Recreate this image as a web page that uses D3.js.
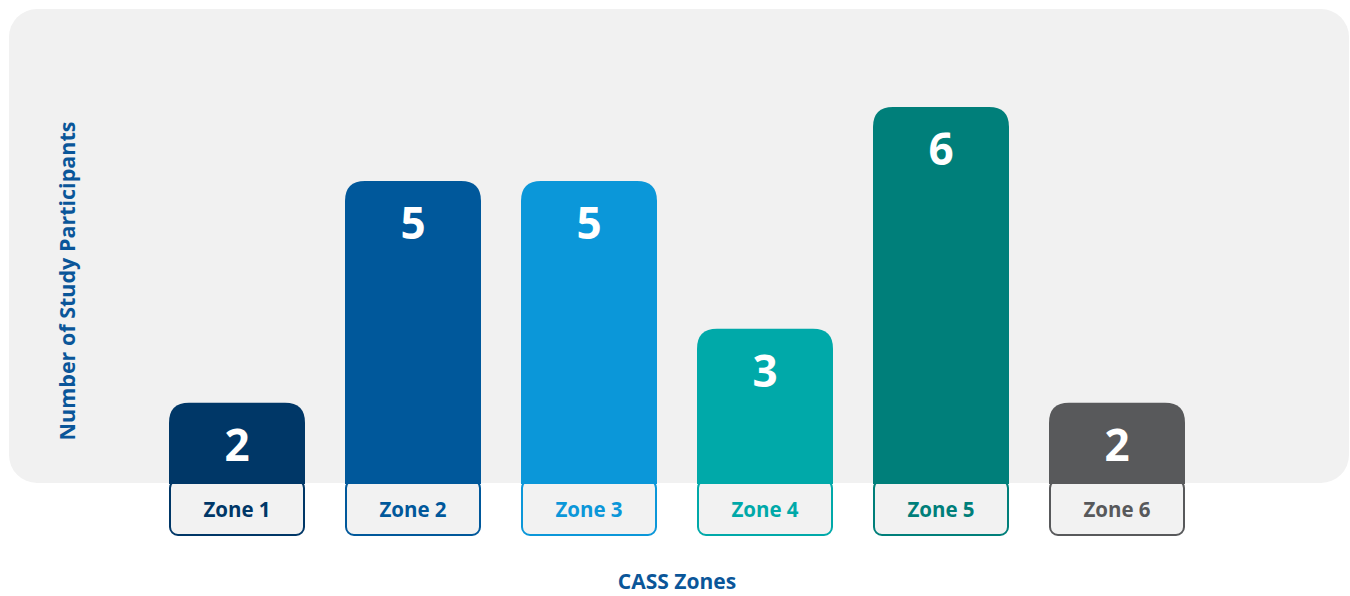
<!DOCTYPE html>
<html>
<head>
<meta charset="utf-8">
<script src="https://cdn.jsdelivr.net/npm/d3@7"></script>
<style>
  html, body { margin: 0; padding: 0; background: #ffffff; }
  svg { display: block; font-family: "Open Sans", "Noto Sans", sans-serif; }
</style>
</head>
<body>
<div id="chart"></div>
<script>
var zones = ["Zone 1", "Zone 2", "Zone 3", "Zone 4", "Zone 5", "Zone 6"];
var participants = [2, 5, 5, 3, 6, 2];
var zoneColors = ["#003767", "#00589b", "#0b97d9", "#00a9a9", "#007f7a", "#58595b"];

var width = 1350;
var height = 596;
var baseY = 484;      // bottom of the coloured part of each bar
var labelBoxH = 52;   // height of the zone label box under each bar
var topR = 20;
var botR = 8;

var svg = d3.select("#chart").append("svg")
  .attr("width", width)
  .attr("height", height);

// grey panel behind the bars
svg.append("rect")
  .attr("x", 9)
  .attr("y", 9)
  .attr("width", 1340)
  .attr("height", 474)
  .attr("rx", 28)
  .attr("fill", "#f1f1f1");

var x = d3.scaleBand()
  .domain(zones)
  .range([169 - 20, 1185 + 20])
  .paddingInner(40 / 176)
  .paddingOuter(20 / 176);

// bars do not start from zero in the original graphic
var y = d3.scaleLinear()
  .domain([0.9, 6])
  .range([baseY, 107]);

function topBarPath(x0, y0, w, yb) {
  return "M" + x0 + "," + yb +
    "V" + (y0 + topR) +
    "Q" + x0 + "," + y0 + " " + (x0 + topR) + "," + y0 +
    "H" + (x0 + w - topR) +
    "Q" + (x0 + w) + "," + y0 + " " + (x0 + w) + "," + (y0 + topR) +
    "V" + yb + "Z";
}

var data = zones.map(function (z, i) {
  return { zone: z, value: participants[i], color: zoneColors[i] };
});

var bars = svg.selectAll("g.bar")
  .data(data)
  .enter()
  .append("g")
  .attr("class", "bar");

// label box under each bar
bars.append("rect")
  .attr("x", function (d) { return x(d.zone) + 1; })
  .attr("y", baseY - 4)
  .attr("width", x.bandwidth() - 2)
  .attr("height", labelBoxH + 3)
  .attr("rx", botR)
  .attr("fill", "#f2f2f2")
  .attr("stroke", function (d) { return d.color; })
  .attr("stroke-width", 2);

bars.append("path")
  .attr("d", function (d) {
    return topBarPath(x(d.zone), y(d.value), x.bandwidth(), baseY);
  })
  .attr("fill", function (d) { return d.color; });

bars.append("text")
  .attr("x", function (d) { return x(d.zone) + x.bandwidth() / 2; })
  .attr("y", function (d) { return y(d.value) + 58; })
  .attr("text-anchor", "middle")
  .attr("font-size", 44)
  .attr("font-weight", 700)
  .attr("fill", "#ffffff")
  .text(function (d) { return d.value; });

bars.append("text")
  .attr("x", function (d) { return x(d.zone) + x.bandwidth() / 2; })
  .attr("y", baseY + 33)
  .attr("text-anchor", "middle")
  .attr("font-size", 20.5)
  .attr("font-weight", 700)
  .attr("fill", function (d) { return d.color; })
  .text(function (d) { return d.zone; });

// axis titles
svg.append("text")
  .attr("transform", "translate(75,281) rotate(-90)")
  .attr("text-anchor", "middle")
  .attr("font-size", 21.5)
  .attr("font-weight", 700)
  .attr("fill", "#0a5699")
  .text("Number of Study Participants");

svg.append("text")
  .attr("x", 677)
  .attr("y", 589)
  .attr("text-anchor", "middle")
  .attr("font-size", 21)
  .attr("font-weight", 700)
  .attr("fill", "#0a5699")
  .text("CASS Zones");
</script>
</body>
</html>
